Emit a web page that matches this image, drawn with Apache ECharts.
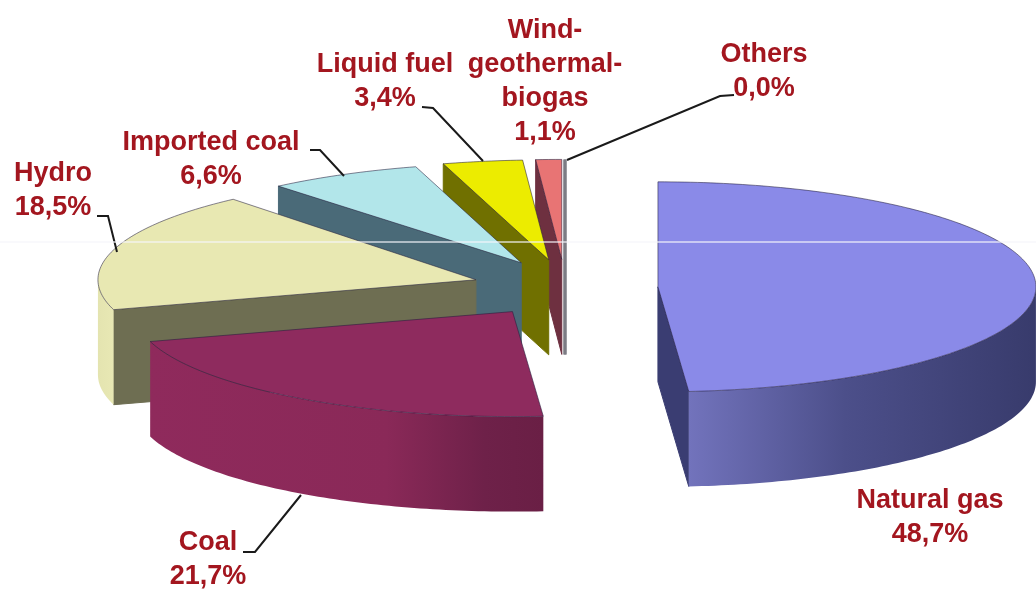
<!DOCTYPE html>
<html>
<head>
<meta charset="utf-8">
<title>Electricity generation by source</title>
<script src="https://cdn.jsdelivr.net/npm/echarts@6/dist/echarts.min.js"></script>
<style>
  html, body { margin: 0; padding: 0; background: #fff; }
  #chart { width: 1036px; height: 590px; }
</style>
</head>
<body>
<div id="chart"></div>
<script>
// Shares of generation, clockwise from twelve o'clock
const sources = ['Natural gas', 'Coal', 'Hydro', 'Imported coal', 'Liquid fuel', 'Wind-\ngeothermal-\nbiogas', 'Others'];
const shares = [48.7, 21.7, 18.5, 6.6, 3.4, 1.1, 0.0];

// Slice colours: top face, cut face, and outer wall gradient
const topColors = ['#8a8ae8', '#8e2b5e', '#e8e8b2', '#b2e6ea', '#ecec00', '#e87474', '#b06a70'];
const cutColors = ['#3a3d72', '#6a1f45', '#6e6e52', '#4a6a78', '#707000', '#6e3040', '#7c7c84'];
const wallStops = [
  [[0, '#7273bc'], [0.45, '#4c4f8a'], [1, '#383b6c']],
  [[0, '#8f2a5c'], [0.6, '#8a2958'], [0.85, '#6e2149'], [1, '#6a1f45']],
  [[0, '#e4e4b0'], [1, '#e8e8b4']],
  [[0, '#4a6a78'], [1, '#4a6a78']],
  [[0, '#707000'], [1, '#707000']],
  [[0, '#6e3040'], [1, '#6e3040']],
  [[0, '#7c7c84'], [1, '#7c7c84']]
];

// Pie projection on the page
const pie = { cx: 565, cy: 288, rx: 378, ry: 105, ryBack: 100, depth: 95, explodeX: 93, explodeY: 28.6 };
const labelColor = '#a3161f';

// Label anchors and leader lines, in slice order
const labelSpots = [
  { x: 930, y: 518, leader: null },
  { x: 208, y: 560, leader: [[243, 552], [255, 552], [301, 495]] },
  { x: 53, y: 191, leader: [[97, 216], [108, 216], [117, 252]] },
  { x: 211, y: 160, leader: [[310, 150], [320, 150], [344, 176]] },
  { x: 385, y: 82, leader: [[422, 107], [433, 108], [483, 161]] },
  { x: 545, y: 82, leader: null },
  { x: 764, y: 72, leader: [[567, 160], [720, 96], [734, 95]] }
];

const total = shares.reduce((a, b) => a + b, 0);
const starts = [];
shares.reduce((acc, v, i) => { starts[i] = acc; return acc + v; }, 0);
const toRad = (pct) => (pct / total) * Math.PI * 2;

// Painted from the back of the pie towards the viewer
const paintOrder = shares.map((_, i) => i).reverse();

function sliceGeometry(i) {
  const a0 = toRad(starts[i]);
  const a1 = toRad(starts[i] + shares[i]);
  const mid = (a0 + a1) / 2;
  const apex = [pie.cx + pie.explodeX * Math.sin(mid), pie.cy - pie.explodeY * Math.cos(mid)];
  const ry = mid > Math.PI * 5 / 3 ? pie.ryBack : pie.ry;
  const rim = (a) => [apex[0] + pie.rx * Math.sin(a), apex[1] - ry * Math.cos(a)];
  return { a0, a1, apex, rim };
}

function drop(p) { return [p[0], p[1] + pie.depth]; }

function arcPoints(rim, from, to) {
  const steps = Math.max(1, Math.ceil((to - from) / (Math.PI / 180)));
  const pts = [];
  for (let s = 0; s <= steps; s++) pts.push(rim(from + (to - from) * s / steps));
  return pts;
}

function renderSlice(params, api) {
  const i = api.value(0);
  const { a0, a1, apex, rim } = sliceGeometry(i);
  const children = [];

  // Flat cut faces that turn towards the viewer
  const faces = [[a0, a0 - Math.PI / 2], [a1, a1 + Math.PI / 2]];
  faces.forEach(([edge, normal]) => {
    const zeroWidth = shares[i] === 0;
    if (Math.cos(normal) < -0.01 || (zeroWidth && edge === a0)) {
      const p = rim(edge);
      children.push({
        type: 'polygon',
        shape: { points: [apex, p, drop(p), drop(apex)] },
        style: {
          fill: cutColors[i],
          stroke: cutColors[i],
          lineWidth: zeroWidth ? 3 : 1
        }
      });
    }
  });

  // Curved outer wall, only the part on the near side of the pie
  const from = Math.max(a0, Math.PI / 2);
  const to = Math.min(a1, Math.PI * 3 / 2);
  if (to > from) {
    const top = arcPoints(rim, from, to);
    children.push({
      type: 'polygon',
      shape: { points: top.concat(top.slice().reverse().map(drop)) },
      style: {
        fill: {
          type: 'linear', x: 0, y: 0, x2: 1, y2: 0,
          colorStops: wallStops[i].map(([offset, color]) => ({ offset, color }))
        }
      }
    });
  }

  // Top face
  if (shares[i] > 0) {
    children.push({
      type: 'polygon',
      shape: { points: [apex].concat(arcPoints(rim, a0, a1)) },
      style: { fill: topColors[i], stroke: 'rgba(35,30,60,0.55)', lineWidth: 1 }
    });
  }
  return { type: 'group', children };
}

function formatShare(v) {
  return v.toFixed(1).replace('.', ',') + '%';
}

function renderLabel(params, api) {
  const i = api.value(0);
  const spot = labelSpots[i];
  const children = [{
    type: 'text',
    style: {
      text: sources[i] + '\n' + formatShare(shares[i]),
      x: spot.x,
      y: spot.y,
      align: 'center',
      verticalAlign: 'middle',
      fontFamily: '"Liberation Sans", Arial, sans-serif',
      fontWeight: 'bold',
      fontSize: 27,
      lineHeight: 34,
      fill: labelColor
    }
  }];
  if (spot.leader) {
    children.push({
      type: 'polyline',
      shape: { points: spot.leader },
      style: { fill: 'none', stroke: '#1a1a1a', lineWidth: 2 }
    });
  }
  return { type: 'group', children };
}

const chart = echarts.init(document.getElementById('chart'), null, { renderer: 'canvas' });
chart.setOption({
  backgroundColor: '#ffffff',
  animation: false,
  series: [
    {
      type: 'custom',
      coordinateSystem: 'none',
      renderItem: renderSlice,
      data: paintOrder.map((i) => [i, shares[i]]),
      silent: true
    },
    {
      type: 'custom',
      coordinateSystem: 'none',
      renderItem: renderLabel,
      data: shares.map((v, i) => [i, v]),
      silent: true,
      z: 3
    }
  ],
  graphic: [{
    type: 'line',
    shape: { x1: 0, y1: 242, x2: 1036, y2: 242 },
    style: { stroke: 'rgba(245,245,250,0.8)', lineWidth: 1.5 },
    silent: true,
    z: 10
  }]
});
</script>
</body>
</html>
